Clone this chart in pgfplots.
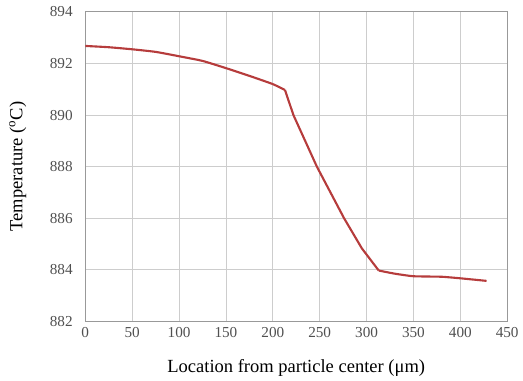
\documentclass[border=0pt]{standalone}
\usepackage{fontspec}
\setmainfont{Liberation Serif}
\usepackage{pgfplots}
\pgfplotsset{compat=1.18}
\definecolor{linered}{RGB}{182,60,60}
\definecolor{gridc}{RGB}{205,205,205}
\definecolor{tickc}{RGB}{80,80,80}
\begin{document}
\begin{tikzpicture}
\begin{axis}[
  scale only axis,
  width=319pt, height=234pt,
  xmin=0, xmax=450, ymin=882, ymax=894,
  xtick={0,50,...,450}, ytick={882,884,...,894},
  grid=major,
  major grid style={gridc, line width=0.6pt},
  axis line style={gray!80, line width=0.6pt},
  tick style={draw=none},
  every tick label/.append style={font=\fontsize{11.5}{13}\selectfont, text=tickc},
  yticklabel style={xshift=-6pt},
  xticklabel style={yshift=-1pt},
  /pgf/number format/assume math mode=true,
  /pgf/number format/1000 sep={},
  xlabel={Location from particle center (μm)},
  ylabel={Temperature (\textsuperscript{o}C)},
  xlabel style={font=\fontsize{14}{16}\selectfont, at={(axis description cs:0.5,0)}, anchor=center, yshift=-35pt},
  ylabel style={font=\fontsize{14}{16}\selectfont, at={(axis description cs:0,0.5)}, anchor=center, yshift=51pt},
]
\addplot[linered, line width=1.6pt, smooth, tension=0.3] coordinates {
(0,892.68) (25,892.63) (50,892.55) (75,892.45) (100,892.28) (125,892.1)
(150,891.82) (175,891.52) (200,891.2) (213,890.97)
};
\addplot[linered, line width=1.6pt, forget plot] coordinates {
(213,890.97) (222,890.0) (247,888.0) (276,886.0) (295,884.83) (313,883.97)
};
\addplot[linered, line width=1.6pt, smooth, tension=0.3, forget plot] coordinates {
(313,883.97) (330,883.85) (350,883.75) (380,883.73) (400,883.67) (428,883.57)
};
\end{axis}
\useasboundingbox ([shift={(-64.5pt,-40.5pt)}]current axis.south west) rectangle ([shift={(9pt,9pt)}]current axis.north east);
\end{tikzpicture}
\end{document}
